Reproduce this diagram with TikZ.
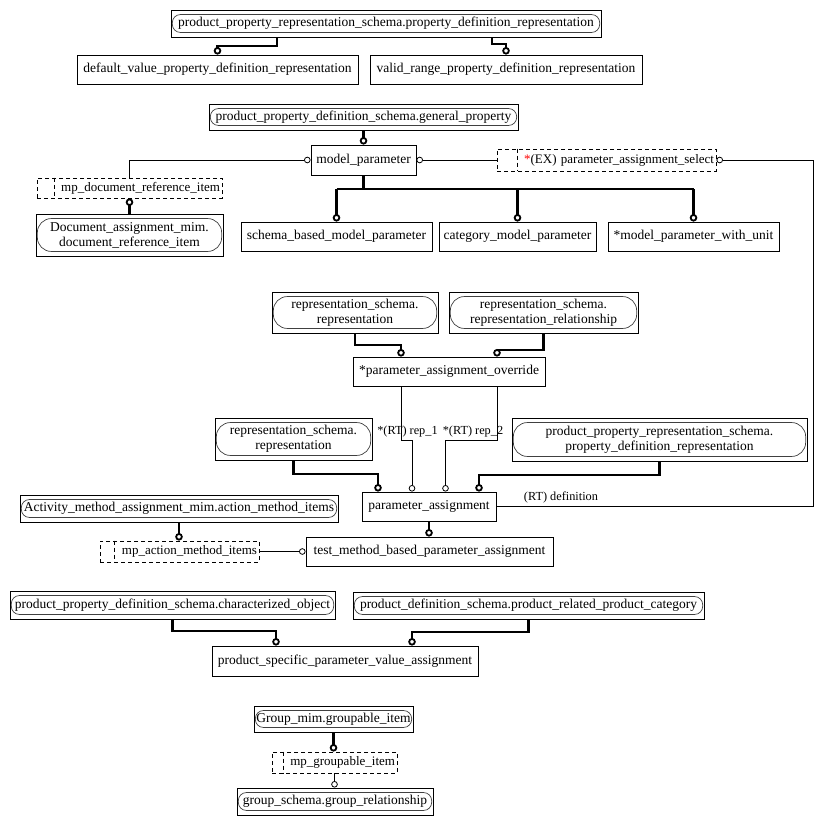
\documentclass[tikz,border=0pt]{standalone}
\usepackage{fontspec}
\setmainfont{Liberation Serif}
\usetikzlibrary{arrows.meta}
\begin{document}
\begin{tikzpicture}[x=1pt,y=-1pt,
  box/.style={draw, line width=0.9pt, inner sep=0pt, align=center, font=\fontsize{13.5}{15}\selectfont},
  sel/.style={box, dash pattern=on 4pt off 3pt, inner xsep=2pt, font=\fontsize{13}{15}\selectfont},
  stadium/.style={draw=black!75, line width=0.7pt},
  dsh/.style={draw, line width=0.9pt, dash pattern=on 4pt off 3pt},
  lbl/.style={inner sep=0pt, font=\fontsize{12.3}{15}\selectfont},
  thkl/.style={line width=2.4pt},
  thk/.style={line width=2.4pt, -{Circle[open,length=7.5pt,width=7.5pt,line width=1.8pt]}},
  thn/.style={line width=0.9pt, -{Circle[open,length=6.5pt,width=6.5pt,line width=0.8pt]}}]
\useasboundingbox (0,0) rectangle (823,824);
\newcommand\ent[6]{\node[box, minimum width=#4pt, minimum height=#5pt] (#1) at (#2,#3) {#6};}
\newcommand\stad[2]{\draw[stadium, rounded corners=#2pt] ([shift={(1.8pt,-5pt)}]#1.north west) rectangle ([shift={(-1.8pt,5pt)}]#1.south east);}
\newcommand\selbox[7]{\node[sel, minimum width=#4pt, minimum height=#5pt, text width=#4pt-4pt, align=right] (#1) at (#2,#3) {#7};
  \draw[dsh] ([xshift=#6pt]#1.north west) -- ([xshift=#6pt]#1.south west);}
% entities
\ent{pprpdr}{386}{23.5}{430}{27}{product\_property\_representation\_schema.property\_definition\_representation}
\stad{pprpdr}{8}
\ent{dvpdr}{217.5}{69.5}{281}{29}{default\_value\_property\_definition\_representation}
\ent{vrpdr}{506}{69.5}{272}{29}{valid\_range\_property\_definition\_representation}
\ent{gp}{363.5}{117}{309}{26}{product\_property\_definition\_schema.general\_property}
\stad{gp}{8}
\ent{mp}{363.5}{160}{105}{30}{model\_parameter}
\selbox{mpdri}{129.5}{188}{185}{20}{18}{mp\_document\_reference\_item}
\ent{dari}{129.5}{235}{187}{42}{Document\_assignment\_mim.\\document\_reference\_item}
\stad{dari}{14}
\ent{sbmp}{336.5}{236.5}{191}{29}{schema\_based\_model\_parameter}
\ent{cmp}{517.5}{236.5}{157}{29}{category\_model\_parameter}
\ent{mpwu}{693.5}{236.5}{171}{29}{*model\_parameter\_with\_unit}
\selbox{pas}{606.5}{160}{219}{22}{21}{\textcolor{red}{*}(EX) parameter\_assignment\_select}
\ent{rsr1}{355}{312.5}{166}{41}{representation\_schema.\\representation}
\stad{rsr1}{14}
\ent{rsrr}{543.5}{312.5}{189}{41}{representation\_schema.\\representation\_relationship}
\stad{rsrr}{14}
\ent{pao}{449}{371.5}{192}{29}{*parameter\_assignment\_override}
\ent{rsr2}{293.5}{439}{157}{42}{representation\_schema.\\representation}
\stad{rsr2}{14}
\ent{pprpdr2}{659.5}{439.5}{295}{43}{product\_property\_representation\_schema.\\property\_definition\_representation}
\stad{pprpdr2}{14}
\ent{pa}{429}{506.5}{134}{29}{parameter\_assignment}
\ent{amami}{179}{508.5}{318}{27}{Activity\_method\_assignment\_mim.action\_method\_items}
\stad{amami}{8}
\selbox{mpami}{179.5}{551.5}{159}{21}{15}{mp\_action\_method\_items}
\ent{tmbpa}{429.5}{551.5}{247}{29}{test\_method\_based\_parameter\_assignment}
\ent{ppdco}{172.5}{605}{325}{28}{product\_property\_definition\_schema.characterized\_object}
\stad{ppdco}{8}
\ent{pdprpc}{528.5}{605.5}{351}{27}{product\_definition\_schema.product\_related\_product\_category}
\stad{pdprpc}{8}
\ent{pspva}{345}{661}{266}{30}{product\_specific\_parameter\_value\_assignment}
\ent{ggi}{333.5}{719}{159}{26}{Group\_mim.groupable\_item}
\stad{ggi}{8}
\selbox{mpgi}{334.5}{762.5}{125}{21}{12}{mp\_groupable\_item}
\ent{gsgr}{335}{801.5}{196}{27}{group\_schema.group\_relationship}
\stad{gsgr}{8}
% labels
\node[lbl] (l1) at (407.5,432) {*(RT) rep\_1};
\node[lbl] (l2) at (473,432) {*(RT) rep\_2};
\node[lbl] (l3) at (561,497) {(RT) definition};
% connectors
\draw[thk] (277,0 |- pprpdr.south) -- (277,46) -| (dvpdr.north);
\draw[thk] (492,0 |- pprpdr.south) -- (492,44) -| (vrpdr.north);
\draw[thk] (gp.south) -- (mp.north);
\draw[thn] (mpdri.north) |- (mp.west);
\draw[thn] (pas.west) -- (mp.east);
\draw[thk] (dari.north) -- (mpdri.south);
\coordinate (st) at (363.5,189);
\draw[thkl] (mp.south) -- (st);
\draw[thkl] (st -| sbmp.north) -- (st -| mpwu.north);
\draw[thk] (st -| sbmp.north) -- (sbmp.north);
\draw[thk] (st -| cmp.north) -- (cmp.north);
\draw[thk] (st -| mpwu.north) -- (mpwu.north);
\coordinate (defc) at (813,160);
\draw[thn] (pa.east) -| (defc) -- (pas.east);
\draw[thk] (rsr1.south) -- (rsr1.south |- 0,345) -| (401,0 |- pao.north);
\draw[thk] (rsrr.south) -- (rsrr.south |- 0,350) -| (497,0 |- pao.north);
\draw[thn] (401,0 |- pao.south) -- (401,440) -| (412,0 |- pa.north);
\draw[thn] (497,0 |- pao.south) -- (497,440) -| (445.5,0 |- pa.north);
\draw[thk] (rsr2.south) -- (rsr2.south |- 0,474) -| (378,0 |- pa.north);
\draw[thk] (pprpdr2.south) -- (pprpdr2.south |- 0,475) -| (479,0 |- pa.north);
\draw[thk] (pa.south) -- (pa.south |- tmbpa.north);
\draw[thk] (amami.south) -- (amami.south |- mpami.north);
\draw[thn] (mpami.east) -- (tmbpa.west);
\draw[thk] (ppdco.south) -- (ppdco.south |- 0,631) -| (276,0 |- pspva.north);
\draw[thk] (pdprpc.south) -- (pdprpc.south |- 0,632) -| (412,0 |- pspva.north);
\draw[thk] (ggi.south) -- (ggi.south |- mpgi.north);
\draw[thn] (mpgi.south) -- (mpgi.south |- gsgr.north);
\end{tikzpicture}
\end{document}
